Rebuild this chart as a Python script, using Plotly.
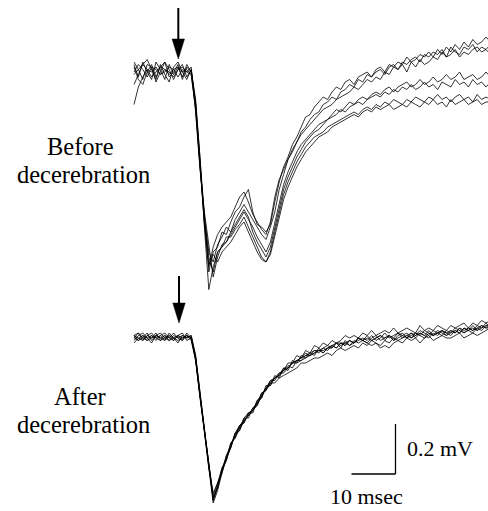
import plotly.graph_objects as go

# ---------------- data ----------------
# sampling times (ms) relative to the stimulus (arrow)
time_ms = list(range(-10, 72))

# Field potentials before decerebration (microvolts), 7 superimposed sweeps
before_a = [30, -20, 40, 0, -30, 40, 10, -30, 30, -10, 20, -20, 30, 0,
            -120, -350, -600, -800, -720, -700, -640, -650, -600, -560, -540, -500, -470, -560, -610, -620, -640, -610,
            -520, -440, -380, -340, -290, -260, -220, -180, -170, -140, -120, -100, -110, -80, -60, -70, -40, -30, -50, -20,
            -10, 0, -20, 10, 20, 0, 30, 20, 40, 30, 60, 40, 50, 70, 60, 80, 60, 90, 70, 100, 80, 110, 90, 120, 100, 130, 110, 120, 140, 120]
before_b = [-10, 10, 30, 10, -20, 0, 20, 10, -10, 10, 20, 0, 10, -10,
            -150, -380, -580, -720, -760, -690, -660, -620, -640, -590, -560, -530, -560, -590, -620, -650, -670, -620,
            -560, -470, -410, -350, -310, -280, -240, -220, -190, -170, -160, -130, -120, -100, -110, -80, -70, -50, -60, -30,
            -40, -10, -20, 0, 10, -10, 20, 30, 10, 40, 30, 50, 60, 40, 70, 60, 80, 70, 90, 60, 100, 80, 70, 100, 90, 110, 80, 100, 90, 110]
before_c = [40, 10, -30, 30, 20, -40, 0, 40, 10, -30, 10, 30, -20, 10,
            -130, -360, -610, -780, -700, -650, -620, -600, -580, -540, -500, -480, -520, -570, -600, -630, -650, -600,
            -500, -430, -390, -350, -320, -280, -250, -230, -210, -190, -170, -150, -140, -130, -110, -100, -90, -80, -60, -70,
            -50, -30, -40, -20, -30, 0, -10, 20, 10, 30, 0, 40, 20, 50, 30, 40, 60, 50, 80, 60, 70, 90, 60, 80, 70, 90, 100, 80, 90, 70]
before_d = [0, 30, 10, -20, 20, 10, -10, 0, 20, 10, -20, 10, 0, 20,
            -160, -390, -560, -700, -820, -740, -690, -680, -650, -620, -590, -560, -590, -620, -660, -690, -720, -680,
            -600, -520, -450, -400, -360, -320, -290, -270, -250, -230, -210, -200, -190, -170, -150, -160, -140, -120, -130, -110,
            -100, -110, -90, -80, -90, -70, -60, -80, -60, -50, -40, -60, -50, -30, -50, -40, -20, -40, -30, -10, -30, -20, 0, -30, -20, -10, -30, -20, 0, -20]
before_e = [-50, -10, 30, 50, 10, -30, 30, -10, -40, 20, 40, 0, -30, 10,
            -110, -340, -620, -870, -780, -720, -700, -680, -640, -610, -580, -550, -580, -640, -680, -710, -740, -700,
            -620, -540, -470, -420, -380, -340, -310, -280, -260, -240, -230, -210, -190, -180, -170, -150, -160, -140, -130, -120,
            -130, -110, -100, -90, -100, -80, -90, -70, -80, -60, -70, -50, -70, -60, -40, -60, -50, -70, -40, -50, -60, -30, -50, -40, -60, -30, -50, -40, -60, -40]
before_f = [-130, -60, -20, 10, 0, 20, -10, 10, 0, -20, 10, 20, 0, -10,
            -140, -360, -590, -740, -800, -720, -700, -660, -660, -630, -610, -580, -620, -660, -700, -740, -760, -720,
            -640, -560, -490, -440, -400, -360, -330, -300, -280, -260, -250, -240, -220, -210, -200, -190, -180, -170, -160, -170,
            -150, -140, -150, -130, -140, -120, -130, -110, -120, -130, -110, -120, -100, -110, -120, -100, -110, -90, -110, -100, -120, -100, -90, -110, -100, -120, -90, -110, -100, -110]
before_g = [20, -30, -50, 0, 30, -20, 20, 40, -20, 0, 30, -30, 20, 0,
            -130, -370, -600, -770, -730, -760, -720, -700, -680, -650, -620, -600, -640, -680, -720, -750, -760, -730,
            -660, -580, -510, -460, -420, -380, -350, -320, -300, -280, -260, -250, -240, -220, -210, -200, -190, -180, -170, -180,
            -160, -150, -160, -140, -150, -140, -130, -150, -140, -130, -140, -120, -130, -140, -120, -130, -110, -130, -120, -140, -110, -130, -120, -110, -130, -120, -110, -130, -120, -120]

# Field potentials after decerebration (microvolts), 7 superimposed sweeps
after_a = [10, -10, 0, 20, -10, 10, 0, -10, 10, 0, -20, 10, 0, 10,
           -70, -220, -370, -510, -650, -600, -520, -490, -420, -400, -350, -340, -300, -300, -250, -240, -190, -190,
           -150, -160, -120, -130, -90, -100, -70, -80, -60, -70, -40, -60, -40, -30, -40, -20, -30, -10, -20, 0,
           -10, 10, -10, 0, 10, -10, 10, 0, 20, 0, 10, 20, 0, 20, 10, 30, 10, 20, 30, 10, 30, 20, 40, 20, 30, 50, 30, 40, 60, 40]
after_b = [-10, 10, 20, 0, 10, -10, 10, 20, 0, -10, 10, 0, 10, -10,
           -90, -240, -380, -520, -630, -580, -540, -470, -440, -380, -370, -320, -320, -280, -270, -220, -210, -170,
           -170, -140, -130, -100, -100, -70, -80, -50, -60, -30, -40, -20, -30, -10, -20, -10, 10, 0, 10, 0,
           20, 10, 30, 10, 20, 30, 20, 40, 20, 30, 40, 30, 20, 50, 30, 40, 30, 50, 40, 30, 50, 40, 50, 60, 40, 60, 50, 70, 60, 70]
after_c = [0, 20, -10, 10, 0, 20, -10, 0, 10, -10, 10, 20, -10, 0,
           -80, -230, -360, -500, -640, -600, -530, -480, -430, -390, -350, -330, -310, -280, -260, -230, -200, -180,
           -160, -150, -130, -120, -100, -90, -80, -70, -60, -50, -60, -40, -50, -30, -20, -40, -10, -30, -20, 0,
           -10, -20, 0, 10, -10, 0, 10, -10, 0, 10, 20, 0, 10, 20, 10, 0, 20, 10, 30, 20, 10, 30, 20, 40, 30, 20, 40, 30, 50, 40]
after_d = [10, 0, -10, 10, 20, 0, -10, 10, 0, 20, 0, -10, 10, 0,
           -80, -230, -370, -510, -620, -580, -520, -480, -440, -380, -360, -320, -300, -290, -250, -230, -200, -170,
           -160, -150, -120, -120, -100, -90, -80, -60, -70, -50, -50, -40, -30, -40, -20, -30, -20, -10, -20, 0,
           -10, -20, -30, -20, -40, -30, -40, -20, -10, 0, 10, 0, 20, 10, 0, 20, 10, 30, 20, 10, 20, 30, 20, 40, 30, 40, 30, 50, 40, 40]
after_e = [-20, 0, 10, -10, 0, 10, 20, 0, -10, 10, 0, 10, 0, 10,
           -70, -220, -380, -520, -660, -610, -540, -480, -420, -400, -360, -330, -310, -290, -270, -230, -200, -190,
           -160, -150, -130, -110, -120, -90, -90, -80, -70, -60, -50, -60, -40, -30, -40, -20, -20, -30, -10, -20,
           -10, 0, -10, 0, 10, 0, 10, -10, 10, 20, 0, 10, 20, 10, 30, 20, 10, 20, 30, 20, 30, 20, 40, 30, 40, 30, 50, 40, 50, 50]
after_f = [0, -10, 10, 0, -20, 10, 0, 10, -10, 0, 10, -10, 20, 0,
           -90, -240, -360, -500, -640, -590, -530, -490, -430, -380, -350, -340, -300, -290, -260, -240, -200, -180,
           -180, -160, -150, -140, -130, -120, -100, -100, -90, -80, -80, -70, -60, -70, -50, -40, -50, -40, -30, -40,
           -20, -30, -10, -20, -30, -10, -20, 0, -10, -20, 0, -10, 0, -20, 0, 10, -10, 0, 10, 0, 0, 10, 20, 0, 10, 20, 10, 20, 30, 40]
after_g = [10, 20, 0, -10, 10, 0, 10, -10, 20, 0, -10, 0, 10, 0,
           -80, -230, -370, -510, -650, -590, -530, -470, -430, -390, -370, -330, -310, -290, -260, -220, -210, -180,
           -160, -140, -140, -120, -100, -100, -90, -70, -70, -60, -50, -50, -40, -40, -20, -20, -30, -10, -20, -10,
           0, -10, 10, -10, 0, 20, 0, 10, 20, 10, 0, 20, 10, 30, 20, 10, 30, 20, 10, 30, 20, 40, 30, 20, 40, 30, 40, 50, 40, 50]

before_sweeps = [before_a, before_b, before_c, before_d, before_e, before_f, before_g]
after_sweeps = [after_a, after_b, after_c, after_d, after_e, after_f, after_g]

panel_labels = [["Before", "decerebration"], ["After", "decerebration"]]
scale_time_ms = 10
scale_volt_uV = 200
scale_time_label = "10 msec"
scale_volt_label = "0.2 mV"

# ---------------- geometry (layout only) ----------------
W, H = 488, 511
PX_PER_MS = 4.4
PX_PER_UV = 0.25
STIM_PX = 178.0
TOP_BASE_PX = 72.0
BOT_BASE_PX = 338.0

x_range = [(0 - STIM_PX) / PX_PER_MS, (W - STIM_PX) / PX_PER_MS]
y1_range = [(TOP_BASE_PX - H) / PX_PER_UV, (TOP_BASE_PX - 0) / PX_PER_UV]
y2_range = [(BOT_BASE_PX - H) / PX_PER_UV, (BOT_BASE_PX - 0) / PX_PER_UV]


def px_x(px):
    return (px - STIM_PX) / PX_PER_MS


def px_y(py, base):
    return (base - py) / PX_PER_UV


fig = go.Figure()
for sw in before_sweeps:
    fig.add_trace(go.Scatter(x=time_ms, y=sw, mode="lines", yaxis="y",
                             line=dict(color="black", width=0.8), showlegend=False, hoverinfo="skip"))
for sw in after_sweeps:
    fig.add_trace(go.Scatter(x=time_ms, y=sw, mode="lines", yaxis="y2",
                             line=dict(color="black", width=0.8), showlegend=False, hoverinfo="skip"))

shapes = []
# stimulus arrows
for (yref, base, top, head, tip, xc) in [("y", TOP_BASE_PX, 8, 39, 59, 178.3), ("y2", BOT_BASE_PX, 276, 303, 323, 179)]:
    x0 = px_x(xc)
    hw = 6.2 / PX_PER_MS
    shapes.append(dict(type="line", xref="x", yref=yref, x0=x0, x1=x0,
                       y0=px_y(top, base), y1=px_y(head + 1, base), line=dict(color="black", width=2)))
    shapes.append(dict(type="path", xref="x", yref=yref,
                       path=f"M {x0 - hw},{px_y(head, base)} L {x0 + hw},{px_y(head, base)} L {x0},{px_y(tip, base)} Z",
                       fillcolor="black", line=dict(color="black", width=0.5)))

# scale bar (bottom panel coordinates)
bar_x1 = px_x(395.5)
bar_y1 = px_y(474, BOT_BASE_PX)
shapes.append(dict(type="line", xref="x", yref="y2", x0=bar_x1, x1=bar_x1,
                   y0=bar_y1, y1=bar_y1 + scale_volt_uV, line=dict(color="black", width=1.3)))
shapes.append(dict(type="line", xref="x", yref="y2", x0=bar_x1 - scale_time_ms, x1=bar_x1,
                   y0=bar_y1, y1=bar_y1, line=dict(color="black", width=1.3)))

FAMILY = "Liberation Serif, Times New Roman, serif"
annotations = []


def add_text(text, px, py, size, xanchor="center"):
    annotations.append(dict(text=text, x=px / W, y=1 - py / H, xref="paper", yref="paper",
                            xanchor=xanchor, yanchor="middle", showarrow=False,
                            font=dict(family=FAMILY, size=size, color="black")))


add_text(panel_labels[0][0], 80, 146.5, 24.5)
add_text(panel_labels[0][1], 83, 174.5, 24.5)
add_text(panel_labels[1][0], 80, 396.5, 24.5)
add_text(panel_labels[1][1], 83, 424.5, 24.5)
add_text(scale_volt_label, 405, 448, 22, xanchor="left")
add_text(scale_time_label, 366, 496, 22)

axis_common = dict(visible=False, showgrid=False, zeroline=False, fixedrange=True)
fig.update_layout(
    width=W, height=H,
    margin=dict(l=0, r=0, t=0, b=0),
    paper_bgcolor="white", plot_bgcolor="white",
    xaxis=dict(range=x_range, domain=[0, 1], **axis_common),
    yaxis=dict(range=y1_range, domain=[0, 1], **axis_common),
    yaxis2=dict(range=y2_range, domain=[0, 1], overlaying="y", **axis_common),
    shapes=shapes,
    annotations=annotations,
    showlegend=False,
)

fig.write_html("out.html")
